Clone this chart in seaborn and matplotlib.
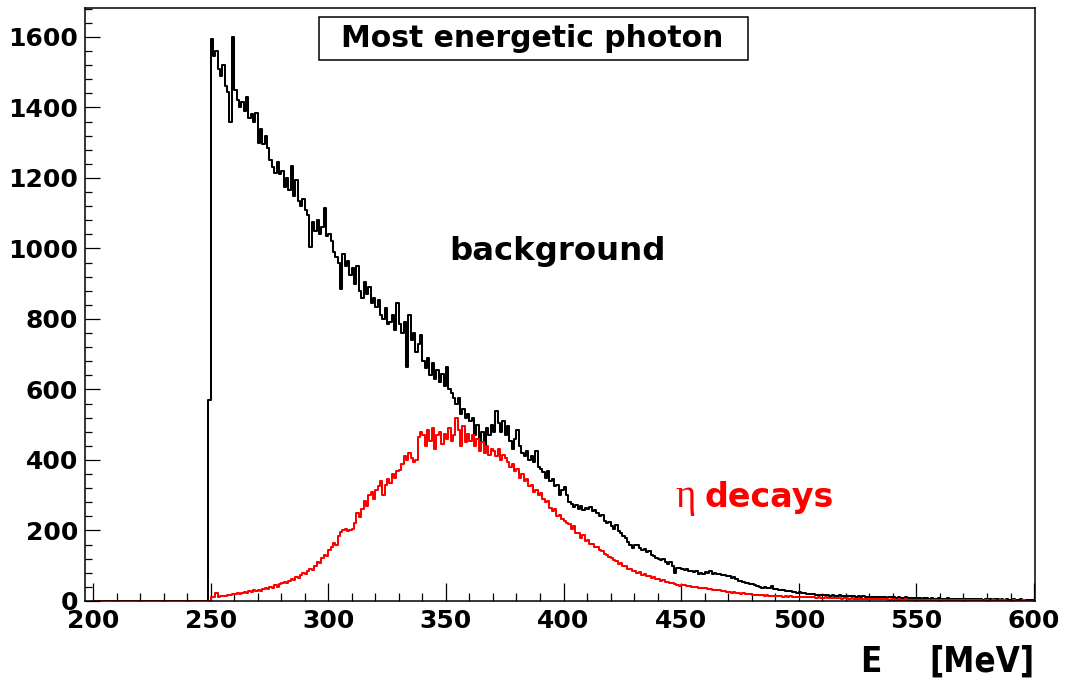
import numpy as np
import pandas as pd
import matplotlib
matplotlib.use("Agg")
import matplotlib.pyplot as plt
import seaborn as sns
from matplotlib import font_manager as fm
from matplotlib.patches import Rectangle
from matplotlib.ticker import MultipleLocator

# ---------------- data (counts per 1 MeV bin) ----------------
x_min, x_max = 200, 600
bg_first_bin = 249
background_counts = [
    570,
    1595, 1545, 1560, 1510, 1490, 1520, 1460, 1445, 1360, 1600,
    1450, 1420, 1400, 1415, 1390, 1430, 1370, 1380, 1360, 1385,
    1300, 1340, 1295, 1320, 1285, 1250, 1230, 1215, 1245, 1210,
    1220, 1175, 1200, 1165, 1235, 1150, 1195, 1135, 1120, 1140,
    1110, 1095, 1005, 1075, 1050, 1080, 1040, 1060, 1115, 1035,
    1040, 1020, 990, 975, 960, 885, 985, 950, 965, 925,
    945, 900, 950, 880, 860, 905, 870, 890, 845, 860,
    835, 855, 810, 800, 830, 785, 790, 810, 770, 845,
    785, 760, 790, 665, 810, 740, 760, 705, 730, 755,
    680, 660, 690, 640, 675, 630, 655, 620, 645, 610,
    665, 600, 590, 575, 560, 575, 530, 545, 520, 530,
    510, 520, 470, 500, 430, 480, 425, 490, 470, 500,
    480, 540, 505, 480, 510, 470, 495, 455, 430, 460,
    485, 440, 420, 410, 425, 400, 410, 395, 425, 380,
    375, 365, 350, 370, 340, 345, 325, 330, 300, 315,
    322, 300, 280, 275, 268, 272, 262, 270, 258, 265,
    262, 266, 255, 258, 250, 240, 245, 228, 220, 225,
    212, 205, 215, 198, 192, 185, 180, 168, 160, 150,
    158, 160, 150, 145, 148, 138, 142, 130, 128, 122,
    120, 115, 118, 110, 106, 112, 98, 80, 95, 93,
    92, 88, 90, 84, 86, 82, 85, 78, 80, 76,
    82, 79, 84, 78, 80, 76, 78, 73, 75, 72,
    70, 66, 68, 62, 58, 57, 55, 52, 50, 48,
    47, 45, 42, 40, 38, 40, 36, 38, 42, 35,
    33, 32, 30, 31, 28, 27, 29, 26, 25, 24,
    26, 23, 22, 21, 20, 19, 20, 18, 17, 18,
    17, 16, 17, 15, 16, 15, 14, 16, 15, 14,
    15, 13, 14, 13, 12, 14, 12, 13, 11, 12,
    12, 11, 10, 12, 11, 10, 11, 9, 10, 11,
    10, 9, 10, 9, 8, 10, 9, 8, 9, 8,
    8, 9, 7, 8, 8, 7, 9, 7, 6, 8,
    7, 6, 7, 8, 6, 7, 6, 5, 7, 6,
    6, 5, 6, 7, 5, 6, 5, 6, 4, 5,
    5, 6, 4, 5, 5, 4, 6, 4, 5, 4,
    4, 5, 3, 4, 5, 3, 4, 3, 4, 3,
]

eta_first_bin = 250
eta_counts = [
    10, 12, 22, 11, 14, 15, 13, 17, 16, 19,
    20, 22, 19, 24, 26, 23, 28, 25, 30, 27,
    32, 29, 35, 38, 34, 40, 37, 44, 41, 48,
    52, 55, 50, 58, 62, 59, 68, 65, 74, 80,
    78, 86, 92, 88, 100, 112, 108, 122, 130, 128,
    145, 152, 165, 158, 185, 196, 200, 205, 198, 202,
    205, 222, 250, 238, 262, 285, 270, 300, 310, 290,
    315, 325, 340, 300, 330, 345, 335, 360, 350, 370,
    372, 390, 410, 400, 420, 405, 395, 400, 465, 480,
    470, 440, 485, 455, 490, 430, 470, 480, 445, 475,
    460, 490, 455, 470, 520, 485, 440, 495, 450, 475,
    455, 470, 440, 460, 425, 450, 420, 440, 415, 430,
    425, 410, 430, 400, 415, 405, 395, 380, 390, 370,
    375, 350, 360, 340, 345, 325, 330, 310, 315, 300,
    305, 290, 280, 285, 265, 255, 262, 240, 245, 232,
    228, 222, 218, 203, 212, 194, 192, 178, 186, 170,
    172, 163, 162, 152, 154, 145, 142, 133, 131, 124,
    122, 115, 114, 106, 107, 98, 100, 92, 91, 86,
    86, 80, 82, 75, 76, 70, 72, 66, 67, 62,
    63, 58, 59, 54, 55, 50, 51, 47, 46, 43,
    45, 44, 43, 42, 40, 41, 39, 38, 37, 36,
    36, 34, 35, 32, 31, 30, 31, 28, 27, 26,
    26, 24, 25, 23, 22, 21, 22, 20, 19, 19,
    18, 17, 18, 16, 16, 15, 16, 14, 15, 14,
    14, 13, 14, 12, 13, 12, 13, 12, 11, 12,
    11, 12, 10, 11, 10, 11, 10, 9, 10, 9,
    9, 10, 9, 8, 9, 8, 9, 8, 7, 8,
    8, 7, 8, 7, 7, 6, 7, 6, 7, 6,
    6, 6, 5, 6, 5, 6, 5, 5, 4, 5,
    5, 4, 5, 4, 4, 5, 4, 4, 3, 4,
    4, 3, 4, 3, 4, 3, 3, 4, 3, 3,
    3, 3, 2, 3, 3, 2, 3, 2, 3, 2,
    2, 3, 2, 2, 3, 2, 2, 2, 1, 2,
    2, 1, 2, 2, 1, 2, 1, 2, 1, 1,
    1, 2, 1, 1, 1, 2, 1, 1, 1, 1,
]

title_text = "Most energetic photon"
bg_label = "background"
eta_symbol = "η"
eta_label = "decays"
x_label_var = "E"
x_label_unit = "[MeV]"

# ---------------- build binned table ----------------
centers = np.arange(x_min, x_max, 1) + 0.5
nb = len(centers)
bg_full = np.zeros(nb)
eta_full = np.zeros(nb)
o = bg_first_bin - x_min
n = min(len(background_counts), nb - o)
bg_full[o:o + n] = background_counts[:n]
o = eta_first_bin - x_min
n = min(len(eta_counts), nb - o)
eta_full[o:o + n] = eta_counts[:n]
df = pd.DataFrame({"E": centers, "bg": bg_full, "eta": eta_full})

# ---------------- style ----------------
sns.set_style("ticks")
plt.rcParams["font.family"] = ["DejaVu Sans"]
plt.rcParams["font.weight"] = "bold"
plt.rcParams["text.color"] = "black"

# narrow bold font for the axis title, if one is installed
narrow_path, narrow_size = None, 21
for f in fm.fontManager.ttflist:
    if f.name == "Liberation Sans Narrow" and f.weight in ("bold", 700) and "Italic" not in f.fname:
        narrow_path, narrow_size = f.fname, 32
        break
if narrow_path is None:
    for f in fm.fontManager.ttflist:
        if f.name.startswith("DejaVu Sans") and "ondensed" in f.fname and "Bold" in f.fname \
                and "Oblique" not in f.fname:
            narrow_path, narrow_size = f.fname, 25
            break
if narrow_path is not None:
    xl_font = fm.FontProperties(fname=narrow_path, size=narrow_size)
else:
    xl_font = fm.FontProperties(family="DejaVu Sans", weight="bold", size=narrow_size)

fig = plt.figure(figsize=(10.70, 6.79), dpi=100)
ax = fig.add_axes([85 / 1070, 1 - 601 / 679, 950 / 1070, 593 / 679])

sns.histplot(data=df, x="E", weights="bg", binwidth=1, binrange=(x_min, x_max),
             element="step", fill=False, color="black", linewidth=1.45, ax=ax)
sns.histplot(data=df, x="E", weights="eta", binwidth=1, binrange=(x_min, x_max),
             element="step", fill=False, color="#ff0000", linewidth=1.45, ax=ax)

ax.set_xlim(196.6, 600.4)
ax.set_ylim(0, 1682)
ax.set_xlabel("")
ax.set_ylabel("")

ax.xaxis.set_major_locator(MultipleLocator(50))
ax.xaxis.set_minor_locator(MultipleLocator(10))
ax.yaxis.set_major_locator(MultipleLocator(200))
ax.yaxis.set_minor_locator(MultipleLocator(40))
ax.tick_params(axis="x", which="major", direction="in", length=13, width=0.9,
               pad=6, labelsize=18, top=False, color="black", labelcolor="black")
ax.tick_params(axis="x", which="minor", direction="in", length=5.8, width=0.9,
               top=False, color="black")
ax.tick_params(axis="y", which="major", direction="in", length=10.8, width=0.9,
               pad=5, labelsize=18, right=False, color="black", labelcolor="black")
ax.tick_params(axis="y", which="minor", direction="in", length=4.8, width=0.9,
               right=False, color="black")
for lab in ax.get_xticklabels() + ax.get_yticklabels():
    lab.set_fontweight("bold")
for sp in ax.spines.values():
    sp.set_visible(True)
    sp.set_linewidth(1.1)
    sp.set_color("black")

# title box
fig.add_artist(Rectangle((319.3 / 1070, 1 - 60 / 679), 428.7 / 1070, 43 / 679,
                         transform=fig.transFigure, facecolor="white",
                         edgecolor="black", linewidth=1.1, zorder=5))
fig.text(532 / 1070, 1 - 47 / 679, title_text, ha="center", va="baseline",
         fontsize=21.5, fontweight="bold", color="black", zorder=6)

# annotations
ax.text(397.6, 968, bg_label, ha="center", va="baseline", fontsize=23.3,
        fontweight="bold", color="black")
ax.text(451.8, 268, eta_symbol, ha="center", va="baseline", fontsize=28,
        family=["Liberation Serif", "DejaVu Serif"], fontweight="normal", color="#ff0000")
ax.text(460.1, 268, eta_label, ha="left", va="baseline", fontsize=24,
        fontweight="bold", color="#ff0000")

# x-axis title
fig.text(860 / 1070, 1 - 671.5 / 679, x_label_var, ha="left", va="baseline",
         fontproperties=xl_font, color="black")
fig.text(1034 / 1070, 1 - 671.5 / 679, x_label_unit, ha="right", va="baseline",
         fontproperties=xl_font, color="black")

fig.savefig("out.png", dpi=100)
